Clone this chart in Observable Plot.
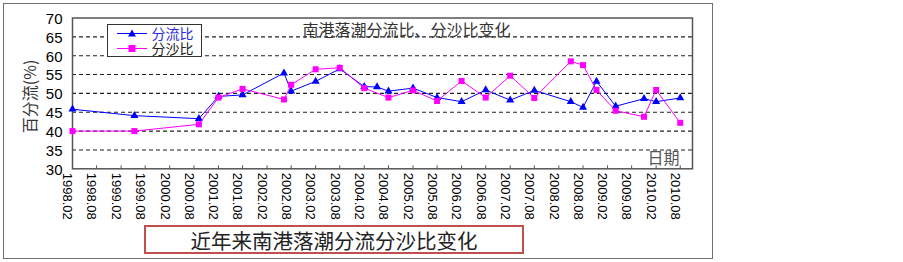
<!DOCTYPE html>
<html>
<head>
<meta charset="utf-8">
<script src="https://cdn.jsdelivr.net/npm/d3@7"></script>
<script src="https://cdn.jsdelivr.net/npm/@observablehq/plot@0.6"></script>
<style>
  html, body { margin: 0; padding: 0; background: #fff; }
  #wrap { position: relative; width: 903px; height: 262px; overflow: hidden; }
  #outer { position: absolute; left: 3px; top: 3px; width: 708px; height: 254px; border: 1.5px solid #707070; box-sizing: content-box; pointer-events: none; }
  #legend { position: absolute; left: 106.5px; top: 24px; width: 93px; height: 31px; background: #fff; border: 1.3px solid #333; }
  #legend svg { position: absolute; left: 9px; top: 0; }
  #legendText { position: absolute; left: 44px; top: 1px; font-family: "Noto Sans CJK SC", sans-serif; font-size: 14px; line-height: 15px; white-space: pre; color: #222; }
  #legendText::first-line { color: #2a2ae0; }
  #caption { position: absolute; left: 144px; top: 225px; width: 376px; height: 25px; border: 2px solid #c0504d; box-sizing: content-box; display: flex; align-items: center; justify-content: center; font-family: "Noto Sans CJK SC", sans-serif; font-size: 20.5px; color: #222; }
</style>
</head>
<body>
<div id="wrap">
  <div id="chart"></div>
  <div id="outer"></div>
  <div id="legend"></div>
  <div id="caption"></div>
</div>
<script>
// ---- data ----
const chartTitle = "南港落潮分流比、分沙比变化";
const captionText = "近年来南港落潮分流分沙比变化";
const yAxisTitle = "百分流(%)";
const xAxisTitle = "日期";
const seriesNames = ["分流比", "分沙比"];

const flowDates = ["1998-02-01","1999-05-12","2000-09-07","2001-02-01","2001-08-01","2002-06-08","2002-08-01","2003-02-01","2003-08-01","2004-02-01","2004-05-07","2004-08-01","2005-02-01","2005-08-01","2006-02-01","2006-08-01","2007-02-01","2007-08-01","2008-05-01","2008-08-01","2008-11-10","2009-04-03","2009-11-02","2010-02-01","2010-08-01"];
const flowRatio = [45.8,44.1,43.3,49.2,49.6,55.4,50.6,53.2,56.5,51.8,51.7,50.6,51.4,48.9,47.8,50.9,48.2,50.8,47.8,46.3,53.2,46.6,48.6,47.8,48.8];

const sedDates = ["1998-02-01","1999-05-12","2000-09-07","2001-02-01","2001-08-01","2002-06-08","2002-08-01","2003-02-01","2003-08-01","2004-02-01","2004-08-01","2005-02-01","2005-08-01","2006-02-01","2006-08-01","2007-02-01","2007-08-01","2008-05-01","2008-08-01","2008-11-10","2009-04-03","2009-11-02","2010-02-01","2010-08-01"];
const sedRatio = [40.0,40.0,41.8,48.9,51.2,48.4,52.3,56.4,56.8,51.4,48.9,50.8,48.0,53.3,48.9,54.7,48.8,58.5,57.5,50.9,45.4,43.8,50.9,42.2];

const xTickLabels = ["1998.02","1998.08","1999.02","1999.08","2000.02","2000.08","2001.02","2001.08","2002.02","2002.08","2003.02","2003.08","2004.02","2004.08","2005.02","2005.08","2006.02","2006.08","2007.02","2007.08","2008.02","2008.08","2009.02","2009.08","2010.02","2010.08"];
const xDomain = ["1998-02-01", "2010-11-01"];
const yTicks = [30,35,40,45,50,55,60,65,70];
const yDomain = [30, 70];

// ---- build ----
const parseDay = d3.utcParse("%Y-%m-%d");
const parseTick = d3.utcParse("%Y.%m");
const fmtTick = d3.utcFormat("%Y.%m");
const colors = ["#0000ff", "#ff00ff"];

const flow = flowDates.map((d, i) => ({date: parseDay(d), value: flowRatio[i]}));
const sed = sedDates.map((d, i) => ({date: parseDay(d), value: sedRatio[i]}));
const tickDates = xTickLabels.map(parseTick);
const gridVals = yTicks.filter(v => v > yDomain[0] && v < yDomain[1]);

const chart = Plot.plot({
  width: 903,
  height: 262,
  marginLeft: 72,
  marginRight: 211,
  marginTop: 17.5,
  marginBottom: 93.7,
  style: {fontFamily: "'Liberation Sans', Arial, sans-serif", background: "transparent", color: "#000"},
  x: {type: "utc", domain: xDomain.map(parseDay)},
  y: {domain: yDomain},
  marks: [
    Plot.ruleY(gridVals, {stroke: "#222", strokeWidth: 1.1, strokeDasharray: "4,3"}),
    Plot.frame({stroke: "#555", strokeWidth: 1.5}),
    Plot.ruleX(tickDates, {x: d => d, y1: yDomain[0], y2: yDomain[0] + 0.8, stroke: "#555"}),
    Plot.axisY({ticks: yTicks, tickSize: 0, tickPadding: 10, fontSize: 15, label: null, dy: 1}),
    Plot.axisX({ticks: tickDates, tickFormat: fmtTick, tickSize: 0, tickRotate: 90, tickPadding: 4, fontSize: 13, dx: -5, label: null}),
    Plot.text([chartTitle], {frameAnchor: "top-left", dx: 230, dy: 13, textAnchor: "start", lineAnchor: "middle", fontFamily: "'Noto Sans CJK SC', sans-serif", fontSize: 16, fill: "#333"}),
    Plot.text([xAxisTitle], {frameAnchor: "bottom-right", dx: -13, dy: -10, textAnchor: "end", lineAnchor: "middle", fontFamily: "'Noto Sans CJK SC', sans-serif", fontSize: 16, fill: "#555"}),
    Plot.text([yAxisTitle], {frameAnchor: "left", dx: -42, dy: 3, rotate: -90, textAnchor: "middle", lineAnchor: "middle", fontFamily: "'Noto Sans CJK SC', sans-serif", fontSize: 16, fill: "#333"}),
    Plot.line(flow, {x: "date", y: "value", stroke: colors[0], strokeWidth: 1}),
    Plot.dot(flow, {x: "date", y: "value", symbol: "triangle", r: 3, fill: colors[0], stroke: "none"}),
    Plot.line(sed, {x: "date", y: "value", stroke: colors[1], strokeWidth: 1}),
    Plot.dot(sed, {x: "date", y: "value", symbol: "square", r: 3.4, fill: colors[1], stroke: "none"})
  ]
});
document.getElementById("chart").appendChild(chart);

// legend: symbols drawn in one small svg, labels in one two-line text block
const legend = document.getElementById("legend");
const rowY = [8.5, 23.5];
legend.innerHTML =
  '<svg width="32" height="31">' +
  '<line x1="0" x2="30" y1="' + rowY[0] + '" y2="' + rowY[0] + '" stroke="' + colors[0] + '" stroke-width="1"/>' +
  '<polygon points="15,' + (rowY[0] - 4) + ' 19,' + (rowY[0] + 3) + ' 11,' + (rowY[0] + 3) + '" fill="' + colors[0] + '"/>' +
  '<line x1="0" x2="30" y1="' + rowY[1] + '" y2="' + rowY[1] + '" stroke="' + colors[1] + '" stroke-width="1"/>' +
  '<rect x="11.5" y="' + (rowY[1] - 3.5) + '" width="7" height="7" fill="' + colors[1] + '"/>' +
  '</svg><div id="legendText"></div>';
document.getElementById("legendText").textContent = seriesNames.join("\n");
document.getElementById("caption").textContent = captionText;
</script>
</body>
</html>
